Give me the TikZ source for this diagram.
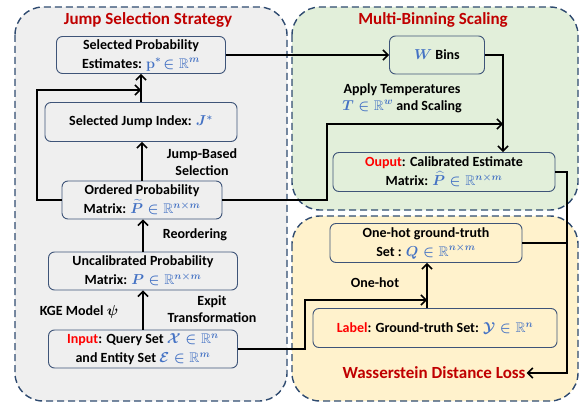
\documentclass[tikz,border=0pt]{standalone}
\usepackage{fontspec}
\setmainfont{Carlito}
\usepackage{amsmath,amssymb,bm}
\usetikzlibrary{arrows.meta}
\definecolor{mblue}{HTML}{4472C4}
\definecolor{tred}{HTML}{C00000}
\definecolor{pgray}{HTML}{EFEFEF}
\definecolor{pgreen}{HTML}{E2EFDA}
\definecolor{pyellow}{HTML}{FFF2CC}
\definecolor{pborder}{HTML}{2F4B70}
\definecolor{nborder}{HTML}{3E5478}
\newcommand\mth[1]{\textcolor{mblue}{\boldmath$#1$}}
\begin{document}
\begin{tikzpicture}[x=1pt,y=-1pt,
  panel/.style={draw=pborder,line width=1.4pt,dash pattern=on 7pt off 4pt,rounded corners=28pt},
  box/.style={draw=nborder,line width=0.9pt,rounded corners=6pt,align=center,font=\bfseries\fontsize{14}{19}\selectfont,inner sep=1pt},
  lbl/.style={align=center,font=\bfseries\fontsize{14}{17}\selectfont,inner sep=1pt},
  ttl/.style={font=\bfseries\fontsize{17}{20}\selectfont,text=tred,inner sep=1pt},
  arr/.style={line width=1.5pt,-{Straight Barb[length=5pt,width=10pt]}},
  ln/.style={line width=1.5pt}]
\useasboundingbox (0,0) rectangle (580,406);
% panels
\draw[panel,fill=pgray] (15,7) rectangle (287,401);
\draw[panel,fill=pgreen] (292,7) rectangle (578,210);
\draw[panel,fill=pyellow] (292,216) rectangle (578,401);
% titles
\node[ttl] (t1) at (148,20) {Jump Selection Strategy};
\node[ttl] (t2) at (433,20) {Multi-Binning Scaling};
\node[ttl] (wass) at (434,373) {Wasserstein Distance Loss};
% nodes
\node[box,fill=pgray,minimum width=169pt,minimum height=37pt] (sel) at (141,55) {Selected Probability\\Estimates: \mth{\mathbf{p}^{*}\!\in\mathbb{R}^{m}}};
\node[box,fill=pgray,minimum width=192pt,minimum height=39pt] (jidx) at (141,122) {Selected Jump Index: \mth{J^{*}}};
\node[box,fill=pgray,minimum width=160pt,minimum height=38pt] (ord) at (142,200) {Ordered Probability\\Matrix: \mth{\widetilde{P}\in\mathbb{R}^{n\times m}}};
\node[box,fill=pgray,minimum width=189pt,minimum height=38pt] (unc) at (143,271) {Uncalibrated Probability\\Matrix: \mth{P\in\mathbb{R}^{n\times m}}};
\node[box,fill=pgray,minimum width=189pt,minimum height=38pt] (inp) at (143,349) {\textcolor{red}{Input}: Query Set \mth{\mathcal{X}\in\mathbb{R}^{n}}\\and Entity Set \mth{\mathcal{E}\in\mathbb{R}^{m}}};
\node[box,fill=pgreen,minimum width=95pt,minimum height=38pt] (bins) at (437,55) {\mth{W} Bins};
\node[box,fill=pgreen,minimum width=222pt,minimum height=39pt] (out) at (444,172) {\textcolor{red}{Ouput}: Calibrated Estimate\\Matrix: \mth{\widehat{P}\in\mathbb{R}^{n\times m}}};
\node[box,fill=pyellow,minimum width=192pt,minimum height=39pt] (oh) at (426,243) {One-hot ground-truth\\Set : \mth{Q\in\mathbb{R}^{n\times m}}};
\node[box,fill=pyellow,minimum width=244pt,minimum height=39pt] (lab) at (435,328) {\textcolor{red}{Label}: Ground-truth Set: \mth{\mathcal{Y}\in\mathbb{R}^{n}}};
% labels
\node[lbl] (l1) at (402,98) {Apply Temperatures\\\mth{T\in\mathbb{R}^{w}} and Scaling};
\node[lbl] (l2) at (202,162) {Jump-Based\\Selection};
\node[lbl] (l3) at (195,235) {Reordering};
\node[lbl] (l4) at (212,309) {Expit\\Transformation};
\node[lbl] (l5) at (79,312) {KGE Model $\bm{\psi}$};
\node[lbl] (l6) at (375,283) {One-hot};
% coordinates
\coordinate (c1) at (37,90);
\coordinate (c2) at (327,124);
\coordinate (c3) at (503,124);
\coordinate (c4) at (567,172);
\coordinate (c5) at (305,300);
\coordinate (c6) at (427,300);
% connectors
\draw[arr] (inp.north) -- (unc.south);
\draw[arr] (unc.north) -- (unc.north |- ord.south);
\draw[arr] (ord.north) -- (ord.north |- jidx.south);
\draw[arr] (jidx.north) -- (sel.south);
\draw[arr] (ord.west) -| (c1) -- (c1 -| sel.south);
\draw[arr] (sel.east) -- (bins.west);
\draw[arr] (bins.east) -| (c3 |- out.north);
\draw[arr] (ord.east) -| (c2) -- (c3);
\draw[arr] (out.east) -| (c4 |- wass.east) -- (wass.east);
\draw[ln] (oh.east) -- (c4 |- oh.east);
\draw[arr] (inp.east) -| (c5) -- (c6);
\draw[arr] (c6 |- lab.north) -- (c6 |- oh.south);
\end{tikzpicture}
\end{document}
